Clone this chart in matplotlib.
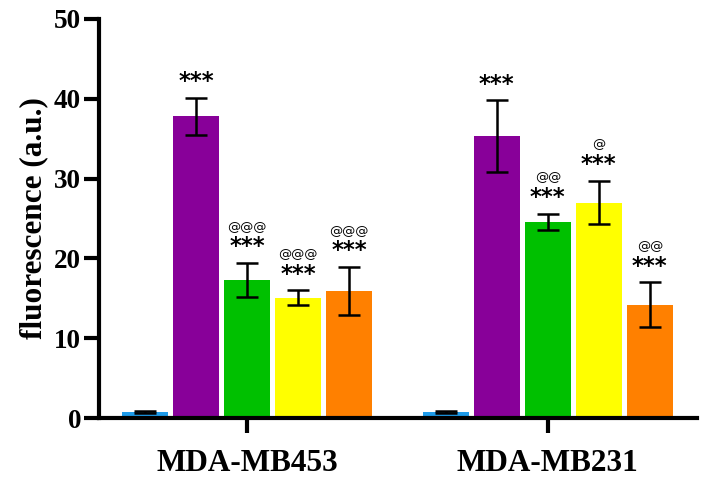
import matplotlib
matplotlib.use("Agg")
import matplotlib.pyplot as plt
import numpy as np

groups = ["MDA-MB453", "MDA-MB231"]
colors = ["#1e9bea", "#880099", "#00c000", "#ffff00", "#ff8000"]
means_453 = [0.75, 37.8, 17.3, 15.1, 15.9]
errs_453 = [0.12, 2.3, 2.1, 0.9, 3.0]
means_231 = [0.75, 35.3, 24.6, 27.0, 14.2]
errs_231 = [0.12, 4.5, 1.0, 2.7, 2.8]
stars_453 = ["", "***", "***", "***", "***"]
ats_453 = ["", "", "@@@", "@@@", "@@@"]
stars_231 = ["", "***", "***", "***", "***"]
ats_231 = ["", "", "@@", "@", "@@"]

fig = plt.figure(figsize=(7.08, 4.84), dpi=100)
ax = fig.add_axes([0.14, 0.136, 0.844, 0.825])

serif = "Liberation Serif"
group_centers = np.array([0.0, 5.9])
offsets = np.arange(5) - 2
width = 0.9

all_means = [means_453, means_231]
all_errs = [errs_453, errs_231]
all_stars = [stars_453, stars_231]
all_ats = [ats_453, ats_231]

for g, c in enumerate(group_centers):
    xs = c + offsets
    ax.bar(xs, all_means[g], width=width, color=colors, zorder=2)
    ax.errorbar(xs, all_means[g], yerr=all_errs[g], fmt="none", ecolor="black",
                elinewidth=1.8, capsize=8, capthick=1.8, zorder=3)
    for i, x in enumerate(xs):
        top = all_means[g][i] + all_errs[g][i]
        if all_stars[g][i]:
            ax.text(x, top + 0.6, all_stars[g][i], ha="center", va="bottom",
                    fontsize=16.5, fontweight="bold", family="DejaVu Sans")
        if all_ats[g][i]:
            ax.text(x, top + 3.7, all_ats[g][i], ha="center", va="bottom",
                    fontsize=9.5, family="DejaVu Sans")

ax.set_xlim(-2.9, 8.82)
ax.set_ylim(0, 50)
ax.set_yticks([0, 10, 20, 30, 40, 50])
ax.set_xticks(group_centers)
ax.set_xticklabels(groups, fontsize=22.5, fontweight="bold", family=serif)
for lab in ax.get_yticklabels():
    lab.set_fontsize(19.5)
    lab.set_fontweight("bold")
    lab.set_family(serif)
ax.set_ylabel("fluorescence (a.u.)", fontsize=22.5, fontweight="bold", family=serif, labelpad=4)

for s in ["top", "right"]:
    ax.spines[s].set_visible(False)
for s in ["left", "bottom"]:
    ax.spines[s].set_linewidth(3)
ax.tick_params(axis="both", width=3, length=11)
ax.tick_params(axis="x", pad=11)
ax.tick_params(axis="y", pad=2)

fig.savefig("out.png", dpi=100)
